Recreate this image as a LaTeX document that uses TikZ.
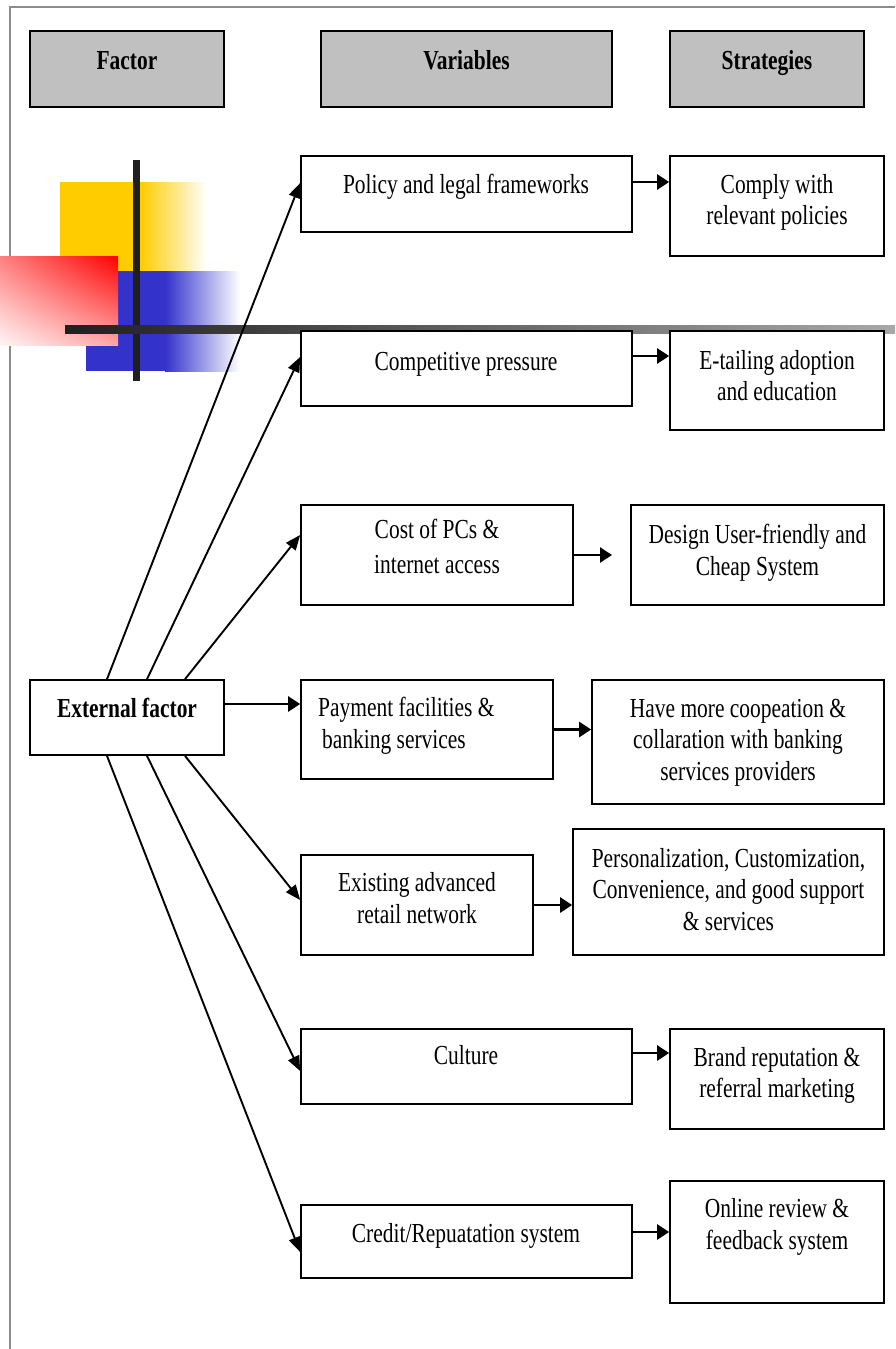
\documentclass[tikz,border=0pt]{standalone}
\usepackage{fontspec}
\setmainfont{Liberation Serif}[FakeStretch=0.78]
\usetikzlibrary{arrows.meta,fit,shadings}

\definecolor{headgray}{HTML}{C0C0C0}
\definecolor{yellowdeco}{HTML}{FFCC00}
\definecolor{bluedeco}{HTML}{3333CC}
\definecolor{bardark}{HTML}{1F1F1F}
\definecolor{bargray}{HTML}{A8A8A8}
\definecolor{framegray}{HTML}{8C8C8C}

\begin{document}
\begin{tikzpicture}[x=1pt,y=-1pt,
  box/.style={draw=black, line width=1.7pt, inner sep=0pt, fill=white},
  headbox/.style={box, fill=headgray},
  % text nodes are placed by the baseline of their last line
  txt/.style={align=center, inner sep=0pt, anchor=base, font=\fontsize{27.5}{31.5}\selectfont},
  htxt/.style={txt, font=\fontsize{27.5}{31.5}\selectfont\bfseries},
  harrow/.style={line width=2.6pt, -{Triangle[length=12pt,width=15pt]}},
  darrow/.style={line width=1.9pt, -{Triangle[length=15pt,width=12pt]}},
]
\useasboundingbox (0,0) rectangle (895,1349);

% page frame
\draw[framegray, line width=1.5pt] (10,1349) -- (10,7) -- (895,7);

% ornament: coloured squares and crossing bars
\fill[yellowdeco] (60,182) rectangle (140,271);
\shade[left color=yellowdeco, right color=white] (140,182) rectangle (207,271);
\fill[bluedeco] (86,271) rectangle (165,371);
\shade[left color=bluedeco, right color=white] (165,271) rectangle (240,371);
\shade[upper left=red!50, upper right=red, lower left=red!4, lower right=red!35]
  (0,256) rectangle (118,345);
\fill[bardark] (133,160) rectangle (140,381);
\shade[left color=bardark, right color=bargray] (65,325) rectangle (895,333);

% column headers
\node[headbox, fit={(30,31) (224,107)}] (hfac) {};
\node[headbox, fit={(321,31) (612,107)}] (hvar) {};
\node[headbox, fit={(670,31) (864,107)}] (hstr) {};
\node[htxt] (hfacT) at (127,69) {Factor};
\node[htxt] (hvarT) at (466.5,69) {Variables};
\node[htxt] (hstrT) at (767,69) {Strategies};

% factor
\node[box, fit={(30,680) (224,755)}] (ext) {};
\node[htxt] (extT) at (127,717) {External factor};

% variables
\node[box, fit={(301,156) (632,232)}] (pol) {};
\node[box, fit={(301,331) (632,406)}] (com) {};
\node[box, fit={(301,505) (573,605)}] (cost) {};
\node[box, fit={(301,680) (553,779)}] (pay) {};
\node[box, fit={(301,855) (533,955)}] (exi) {};
\node[box, fit={(301,1029) (632,1104)}] (cul) {};
\node[box, fit={(301,1205) (632,1278)}] (cre) {};

\node[txt] (polT) at (466,193) {Policy and legal frameworks};
\node[txt] (comT) at (466,370) {Competitive pressure};
\node[txt] (costT) at (437,573) {Cost of PCs \&\\[3pt]internet access};
\node[txt, align=left, anchor=base west] (payT) at (318,748) {Payment facilities \&\\\hspace*{4pt}banking services};
\node[txt] (exiT) at (417,923) {Existing advanced\\retail network};
\node[txt] (culT) at (466,1064) {Culture};
\node[txt] (creT) at (466,1242) {Credit/Repuatation system};

% strategies
\node[box, fit={(670,156) (884,256)}] (cmp) {};
\node[box, fit={(670,331) (884,430)}] (eta) {};
\node[box, fit={(631,505) (884,605)}] (des) {};
\node[box, fit={(592,680) (884,804)}] (have) {};
\node[box, fit={(573,829) (884,955)}] (per) {};
\node[box, fit={(670,1029) (884,1129)}] (bra) {};
\node[box, fit={(670,1181) (884,1303)}] (onl) {};

\node[txt] (cmpT) at (777,224.5) {Comply with\\relevant policies};
\node[txt] (etaT) at (777,400.5) {E-tailing adoption\\and education};
\node[txt] (desT) at (757.5,575) {Design User-friendly and\\Cheap System};
\node[txt] (haveT) at (738,780) {Have more coopeation \&\\collaration with banking\\services providers};
\node[txt] (perT) at (728.5,930) {Personalization, Customization,\\Convenience, and good support\\\& services};
\node[txt] (braT) at (777,1097.5) {Brand reputation \&\\referral marketing};
\node[txt] (onlT) at (777,1249) {Online review \&\\feedback system};

% fan of connectors from the factor to the variables
\draw[darrow] (ext.north -| 107,0) -- (pol.west |- 0,183);
\draw[darrow] (ext.north -| 147,0) -- (com.west |- 0,357);
\draw[darrow] (ext.north -| 185,0) -- (cost.west |- 0,535);
\draw[harrow] (ext.east |- 0,704) -- (pay.west |- 0,704);
\draw[darrow] (ext.south -| 185,0) -- (exi.west |- 0,900);
\draw[darrow] (ext.south -| 147,0) -- (cul.west |- 0,1071);
\draw[darrow] (ext.south -| 107,0) -- (cre.west |- 0,1252);

% variables to strategies
\draw[harrow] (pol.east |- 0,182) -- (cmp.west |- 0,182);
\draw[harrow] (com.east |- 0,356) -- (eta.west |- 0,356);
\draw[harrow] (cost.east) -- (cost.east -| 612,0);
\draw[harrow] (pay.east) -- (have.west |- pay.east);
\draw[harrow] (exi.east) -- (per.west |- exi.east);
\draw[harrow] (cul.east |- 0,1053) -- (bra.west |- 0,1053);
\draw[harrow] (cre.east |- 0,1232) -- (onl.west |- 0,1232);
\end{tikzpicture}
\end{document}
